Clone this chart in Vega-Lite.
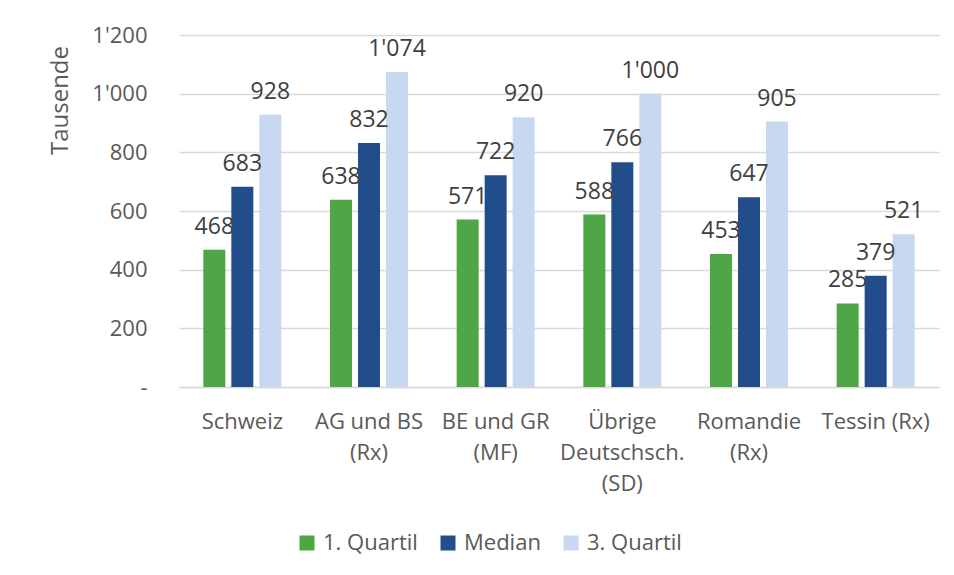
{
  "$schema": "https://vega.github.io/schema/vega-lite/v6.json",
  "autosize": {"type": "none"},
  "width": 760,
  "height": 352,
  "padding": {"left": 179, "top": 35, "right": 15, "bottom": 188},
  "background": "white",
  "config": {
    "locale": {"number": {"decimal": ".", "thousands": "'", "grouping": [3], "currency": ["", ""]}},
    "view": {"stroke": null},
    "font": "Open Sans"
  },
  "data": {
    "values": [
      {"region": "Schweiz", "serie": "1. Quartil", "wert": 468},
      {"region": "Schweiz", "serie": "Median", "wert": 683},
      {"region": "Schweiz", "serie": "3. Quartil", "wert": 928},
      {"region": "AG und BS|(Rx)", "serie": "1. Quartil", "wert": 638},
      {"region": "AG und BS|(Rx)", "serie": "Median", "wert": 832},
      {"region": "AG und BS|(Rx)", "serie": "3. Quartil", "wert": 1074},
      {"region": "BE und GR|(MF)", "serie": "1. Quartil", "wert": 571},
      {"region": "BE und GR|(MF)", "serie": "Median", "wert": 722},
      {"region": "BE und GR|(MF)", "serie": "3. Quartil", "wert": 920},
      {"region": "Übrige|Deutschsch.|(SD)", "serie": "1. Quartil", "wert": 588},
      {"region": "Übrige|Deutschsch.|(SD)", "serie": "Median", "wert": 766},
      {"region": "Übrige|Deutschsch.|(SD)", "serie": "3. Quartil", "wert": 1000},
      {"region": "Romandie|(Rx)", "serie": "1. Quartil", "wert": 453},
      {"region": "Romandie|(Rx)", "serie": "Median", "wert": 647},
      {"region": "Romandie|(Rx)", "serie": "3. Quartil", "wert": 905},
      {"region": "Tessin (Rx)", "serie": "1. Quartil", "wert": 285},
      {"region": "Tessin (Rx)", "serie": "Median", "wert": 379},
      {"region": "Tessin (Rx)", "serie": "3. Quartil", "wert": 521}
    ]
  },
  "encoding": {
    "x": {
      "field": "region", "type": "nominal", "sort": null,
      "scale": {"paddingInner": 0.384, "paddingOuter": 0.192},
      "axis": {
        "title": null, "labelAngle": 0, "labelExpr": "split(datum.label, '|')",
        "labelFontSize": 22, "labelColor": "#595959", "labelPadding": 24, "labelLineHeight": 31,
        "labelBaseline": "top",
        "ticks": false, "domainColor": "#d9d9d9", "domainWidth": 1.5, "grid": false
      }
    },
    "xOffset": {
      "field": "serie", "type": "nominal", "sort": ["1. Quartil", "Median", "3. Quartil"],
      "scale": {"paddingInner": 0.214, "paddingOuter": 0}
    },
    "y": {
      "field": "wert", "type": "quantitative",
      "scale": {"domain": [0, 1200], "nice": false},
      "axis": {
        "title": "Tausende", "titleFontSize": 24, "titleFontWeight": "normal", "titleColor": "#595959",
        "titleX": -119, "titleY": 65, "titleAngle": -90, "titleAlign": "center", "titleBaseline": "middle",
        "values": [0, 200, 400, 600, 800, 1000, 1200],
        "labelExpr": "datum.value == 0 ? '-' : format(datum.value, ',')",
        "labelFontSize": 22, "labelColor": "#595959", "labelPadding": 32,
        "domain": false, "ticks": false, "gridColor": "#d9d9d9", "gridWidth": 1.5
      }
    }
  },
  "layer": [
    {
      "mark": {"type": "bar"},
      "encoding": {
        "color": {
          "field": "serie", "type": "nominal", "sort": ["1. Quartil", "Median", "3. Quartil"],
          "scale": {"domain": ["1. Quartil", "Median", "3. Quartil"], "range": ["#4EA646", "#214E8B", "#C7D8F0"]},
          "legend": {
            "title": null, "orient": "none", "direction": "horizontal",
            "legendX": 117, "legendY": 497,
            "symbolType": "square", "symbolSize": 225, "symbolStrokeWidth": 0,
            "labelFontSize": 22, "labelColor": "#595959", "columnPadding": 19, "labelOffset": 5
          }
        }
      }
    },
    {
      "mark": {"type": "text", "baseline": "bottom", "dy": -11, "fontSize": 23, "color": "#404040"},
      "encoding": {
        "text": {"field": "wert", "type": "quantitative", "format": ","}
      }
    }
  ]
}
